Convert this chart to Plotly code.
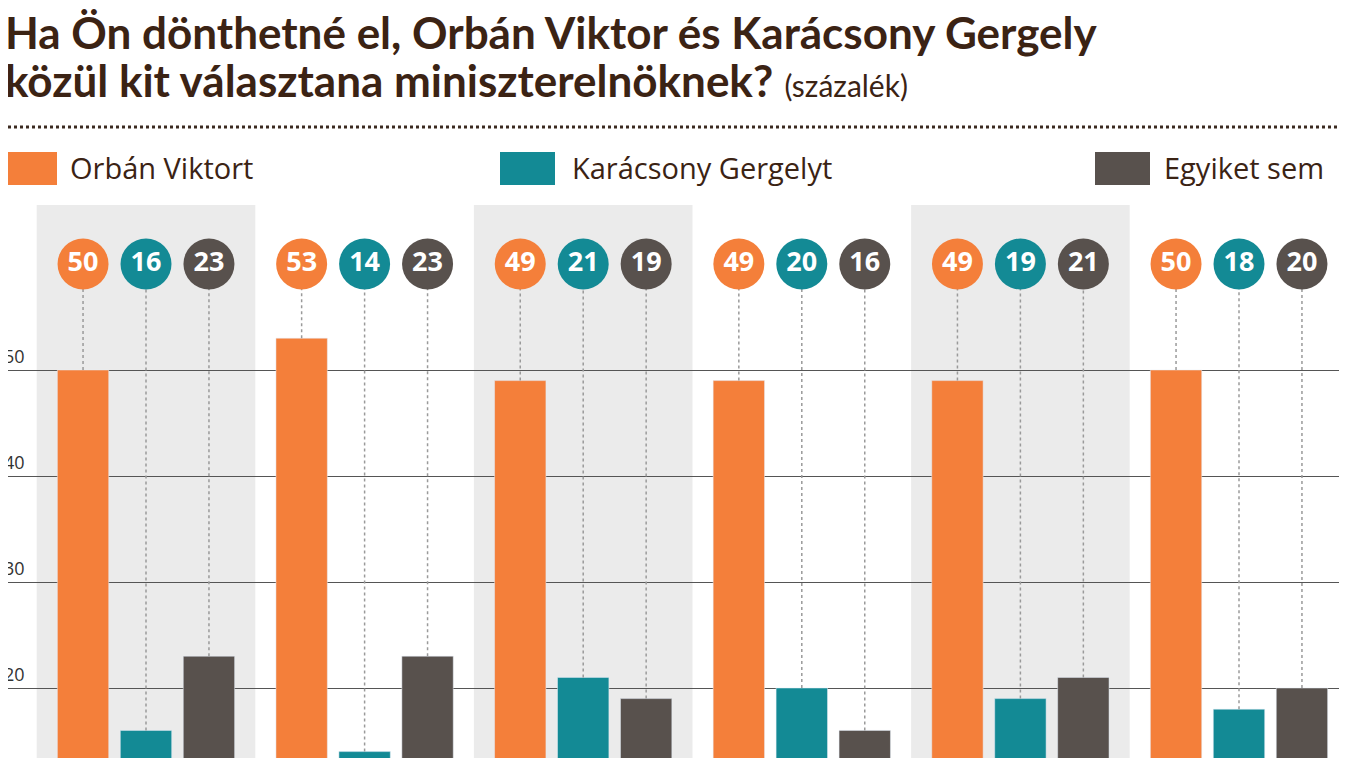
import plotly.graph_objects as go

series_names = ["Orbán Viktort", "Karácsony Gergelyt", "Egyiket sem"]
orban = [50, 53, 49, 49, 49, 50]
karacsony = [16, 14, 21, 20, 19, 18]
egyiket = [23, 23, 19, 16, 21, 20]
y_ticks = [20, 30, 40, 50]

colors = ["#f47f3a", "#138a95", "#58514d"]
W, H = 1347, 758
OFF = 8  # page body margin


def px(p):
    # page x pixel -> paper fraction
    return (p - OFF) / W


def py(p):
    # page y pixel -> paper fraction
    return 1 - (p - OFF) / H


dom_top = py(205)
offset, bar_w = 0.288, 0.235
circle_y = 60
# y scale: 50 at page 370, 10 units = 106 px
ppu = 10.6
y_lo = 50 - (H + OFF - 370) / ppu
y_hi = 50 + (370 - 205) / ppu
gx0 = (146 - OFF) / 218.6

fig = go.Figure()
groups = list(range(len(orban)))
for k, (name, vals) in enumerate(zip(series_names, [orban, karacsony, egyiket])):
    xs = [g + (k - 1) * offset for g in groups]
    for x, v in zip(xs, vals):
        fig.add_trace(go.Scatter(x=[x, x], y=[v, circle_y], mode="lines",
                                 line=dict(color="#9a9a9a", width=1.5, dash="dot"),
                                 showlegend=False, hoverinfo="skip"))
    fig.add_trace(go.Bar(x=xs, y=vals, width=bar_w, marker_color=colors[k],
                         name=name, showlegend=False))
    fig.add_trace(go.Scatter(x=xs, y=[circle_y] * len(xs), mode="markers+text",
                             marker=dict(size=51, color=colors[k]),
                             text=["<b>%d</b>" % v for v in vals],
                             textfont=dict(family="Open Sans", size=27, color="white"),
                             textposition="middle center", showlegend=False))

shapes = []
for g in groups:
    if g % 2 == 0:
        shapes.append(dict(type="rect", xref="x", yref="paper", x0=g - 0.5, x1=g + 0.5,
                           y0=0, y1=dom_top, fillcolor="#ebebeb", line_width=0, layer="below"))
shapes.append(dict(type="line", xref="paper", yref="paper", x0=0, x1=1,
                   y0=py(127), y1=py(127),
                   line=dict(color="#3b2a20", width=3, dash="dot")))

title_font = dict(family="Lato", size=44, color="#3b2314")
annotations = [
    dict(x=px(3), y=py(32), xref="paper", yref="paper", xanchor="left", yanchor="middle",
         showarrow=False, text="<b>Ha Ön dönthetné el, Orbán Viktor és Karácsony Gergely</b>",
         font=title_font),
    dict(x=px(3), y=py(80), xref="paper", yref="paper", xanchor="left", yanchor="middle",
         showarrow=False,
         text="<b>közül kit választana miniszterelnöknek?</b> "
              "<span style='font-size:30px'>(százalék)</span>",
         font=title_font),
]
for t in y_ticks:
    annotations.append(dict(x=px(2), y=t, xref="paper", yref="y",
                            showarrow=False, text=str(t), xanchor="left", yanchor="bottom",
                            font=dict(family="Open Sans", size=18, color="#333")))

legend_x = [(5, 57, 68), (500, 555, 570), (1095, 1150, 1162)]
for (x0, x1, tx), name, c in zip(legend_x, series_names, colors):
    shapes.append(dict(type="rect", xref="paper", yref="paper", x0=px(x0), x1=px(x1),
                       y0=py(185), y1=py(152), fillcolor=c, line_width=0))
    annotations.append(dict(x=px(tx), y=py(168), xref="paper", yref="paper",
                            xanchor="left", yanchor="middle", showarrow=False, text=name,
                            font=dict(family="Open Sans", size=29, color="#3b2314")))

fig.update_layout(
    width=W, height=H, margin=dict(l=0, r=0, t=0, b=0),
    paper_bgcolor="white", plot_bgcolor="rgba(0,0,0,0)",
    shapes=shapes, annotations=annotations,
    xaxis=dict(range=[-gx0, -gx0 + W / 218.6], visible=False, fixedrange=True),
    yaxis=dict(domain=[0, dom_top], range=[y_lo, y_hi], tickvals=y_ticks,
               showticklabels=False, gridcolor="#555", gridwidth=1, zeroline=False),
    barmode="overlay",
)
fig.write_html("out.html")
